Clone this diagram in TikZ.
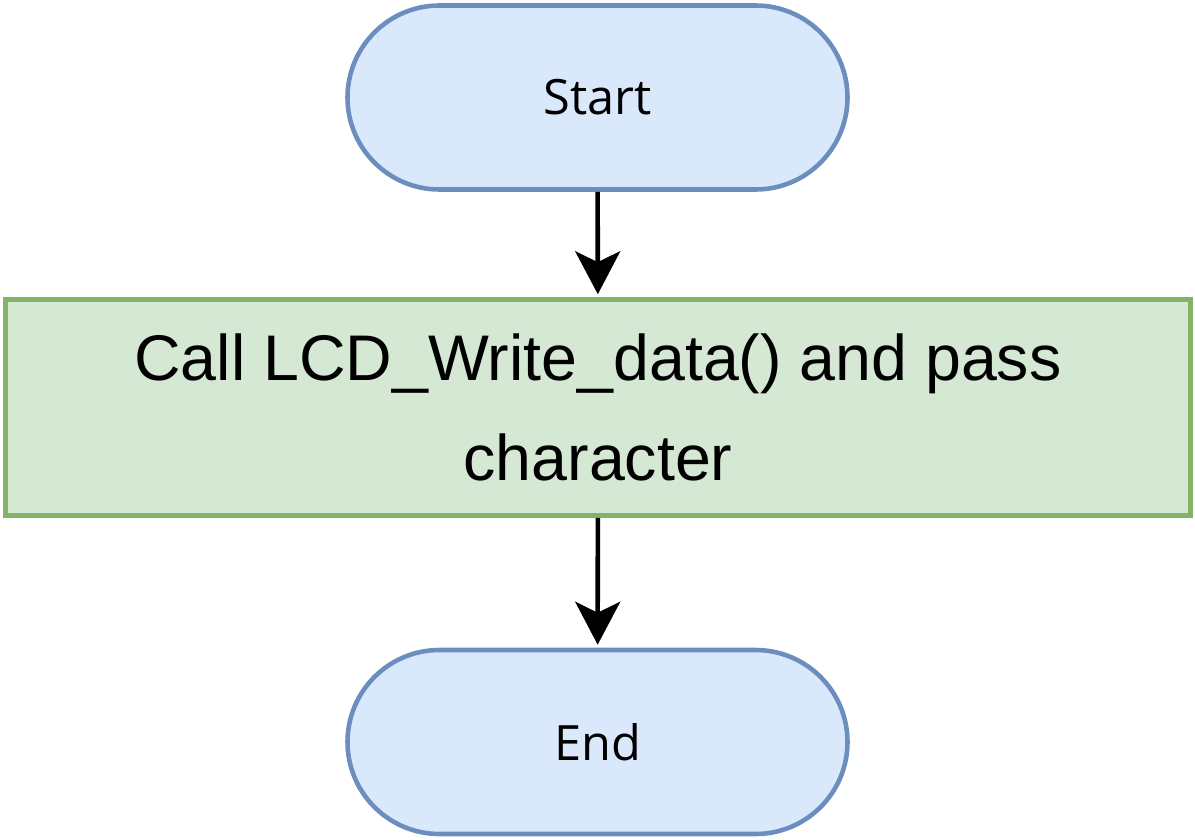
\documentclass[tikz,border=0pt]{standalone}
\usepackage{fontspec}
\setmainfont{Liberation Sans}
\newfontfamily\termfont{Open Sans}
\usetikzlibrary{arrows.meta}

\definecolor{termfill}{HTML}{DAE8FC}
\definecolor{termline}{HTML}{6C8EBF}
\definecolor{procfill}{HTML}{D5E8D4}
\definecolor{procline}{HTML}{82B366}

\begin{document}
\begin{tikzpicture}[
        terminal/.style={draw=termline, fill=termfill, line width=2.6pt,
            rectangle, rounded corners=1.84cm, minimum width=10cm,
            minimum height=3.68cm, inner sep=0pt,
            font=\termfont\fontsize{27.7}{33}\selectfont},
        process/.style={draw=procline, fill=procfill, line width=2.6pt,
            rectangle, minimum width=23.7cm, minimum height=4.32cm,
            inner sep=0pt, align=center,
            font=\fontsize{36.7}{57}\selectfont},
        flow/.style={line width=2.6pt,
            -{Stealth[length=0.86cm, width=0.9cm, inset=0.22cm]}, shorten >=0.06cm}
    ]
        \useasboundingbox (0,0) rectangle (23.9,-16.8);

        \node[terminal] (start) at (11.95,-1.95) {Start};
        \node[process] (write) at (11.96,-8.15) {Call LCD\_Write\_data() and pass\\character};
        \node[terminal] (end) at (11.95,-14.84) {End};

        \draw[flow] (start) -- (write);
        \draw[flow] (write) -- (end);

    \end{tikzpicture}
\end{document}
